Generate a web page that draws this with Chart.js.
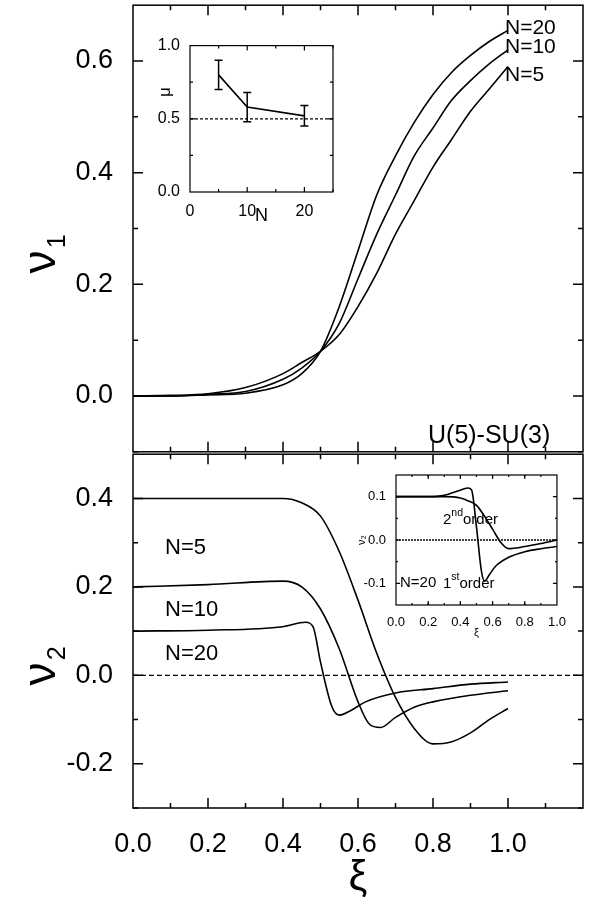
<!DOCTYPE html>
<html><head><meta charset="utf-8">
<script src="https://cdn.jsdelivr.net/npm/chart.js@4"></script>
<style>
body{margin:0;background:#fff;width:593px;height:904px;position:relative;overflow:hidden;font-family:"Liberation Sans",Arial,sans-serif}
canvas{position:absolute}
</style></head><body>
<canvas id="top" width="593" height="503" style="left:0;top:-23px"></canvas>
<canvas id="bot" width="593" height="478" style="left:0;top:426px"></canvas>
<canvas id="in1" width="190" height="193" style="left:150px;top:34px"></canvas>
<canvas id="in2" width="212" height="175" style="left:356px;top:465px"></canvas>
<script>
// top panel: nu1 vs xi
const xi1 = [0, 0.1, 0.2, 0.3, 0.4, 0.45, 0.5, 0.55, 0.6, 0.65, 0.7, 0.75, 0.8, 0.85, 0.9, 0.95, 1.0];
const nu1N20 = [0, 0, 0.002, 0.005, 0.02, 0.04, 0.08, 0.16, 0.26, 0.36, 0.43, 0.49, 0.54, 0.58, 0.61, 0.635, 0.655];
const nu1N10 = [0, 0, 0.003, 0.008, 0.03, 0.05, 0.08, 0.13, 0.21, 0.29, 0.36, 0.43, 0.48, 0.53, 0.565, 0.595, 0.62];
const nu1N5  = [0, 0.001, 0.004, 0.015, 0.04, 0.06, 0.08, 0.11, 0.16, 0.22, 0.29, 0.35, 0.41, 0.46, 0.51, 0.55, 0.59];

// bottom panel: nu2 vs xi
const xiN5 = [0, 0.2, 0.4, 0.45, 0.5, 0.55, 0.6, 0.65, 0.7, 0.75, 0.8, 0.85, 0.9, 0.95, 1.0];
const nu2N5 = [0.4, 0.4, 0.4, 0.39, 0.36, 0.28, 0.17, 0.05, -0.05, -0.12, -0.155, -0.15, -0.13, -0.10, -0.075];
const xiN10 = [0, 0.2, 0.4, 0.45, 0.5, 0.55, 0.6, 0.63, 0.66, 0.7, 0.75, 0.8, 0.9, 1.0];
const nu2N10 = [0.2, 0.205, 0.213, 0.20, 0.15, 0.06, -0.06, -0.11, -0.118, -0.095, -0.072, -0.06, -0.045, -0.035];
const xiN20 = [0, 0.2, 0.4, 0.46, 0.48, 0.5, 0.53, 0.55, 0.58, 0.62, 0.7, 0.8, 0.9, 1.0];
const nu2N20 = [0.1, 0.102, 0.11, 0.12, 0.11, 0.03, -0.07, -0.09, -0.08, -0.06, -0.04, -0.03, -0.02, -0.015];

// inset 1: mu vs N
const insN = [5, 10, 20];
const insMu = [0.8, 0.58, 0.52];
const insErr = [0.1, 0.1, 0.07];

// inset 2: 1st vs 2nd order, N=20
const xiIn = [0, 0.2, 0.3, 0.4, 0.45, 0.47, 0.5, 0.53, 0.55, 0.58, 0.62, 0.7, 0.8, 0.9, 1.0];
const first = [0.1, 0.1, 0.103, 0.115, 0.12, 0.115, 0.03, -0.07, -0.095, -0.08, -0.06, -0.04, -0.027, -0.02, -0.015];
const xiIn2 = [0, 0.2, 0.3, 0.4, 0.45, 0.5, 0.55, 0.6, 0.65, 0.7, 0.8, 0.9, 1.0];
const second = [0.1, 0.1, 0.1, 0.097, 0.09, 0.08, 0.055, 0.025, -0.005, -0.02, -0.015, -0.008, 0];

const FONT = '"Liberation Sans", Arial, sans-serif';
const pts = (xs, ys) => xs.map((x, i) => ({x, y: ys[i]}));
const line = (xs, ys, dash, straight) => ({data: pts(xs, ys), borderColor: '#000', borderWidth: dash ? 1.3 : 1.6,
  borderDash: dash || [], pointRadius: 0, fill: false, tension: 0,
  cubicInterpolationMode: straight ? 'default' : 'monotone'});

// draws frame, inward ticks, texts (page coords shifted by dy), white background
const frame = {
  id: 'frame',
  beforeDraw(c, a, o) {
    if (o.bg) { const ca = c.chartArea, g = c.ctx; g.fillStyle = '#fff'; g.fillRect(ca.left, ca.top, ca.right - ca.left, ca.bottom - ca.top); }
  },
  afterDraw(c, a, o) {
    const g = c.ctx, ca = c.chartArea, xs = c.scales.x, ys = c.scales.y, dy = o.dy || 0;
    g.save();
    g.strokeStyle = '#000'; g.lineWidth = o.lw || 1.5;
    g.strokeRect(ca.left, ca.top, ca.right - ca.left, ca.bottom - ca.top);
    const tk = (vals, len, sc, horiz) => vals.forEach(v => {
      const p = sc.getPixelForValue(v);
      g.beginPath();
      if (horiz) { g.moveTo(p, ca.bottom); g.lineTo(p, ca.bottom - len); g.moveTo(p, ca.top); g.lineTo(p, ca.top + len); }
      else { g.moveTo(ca.left, p); g.lineTo(ca.left + len, p); g.moveTo(ca.right, p); g.lineTo(ca.right - len, p); }
      g.stroke();
    });
    tk(o.xMajor, o.maj, xs, true); tk(o.xMinor, o.min, xs, true);
    tk(o.yMajor, o.maj, ys, false); tk(o.yMinor, o.min, ys, false);
    g.fillStyle = '#000'; g.textBaseline = 'middle';
    (o.texts || []).forEach(t => {
      const y = t.y + dy;
      g.font = t.size + 'px ' + FONT; g.textAlign = 'left';
      g.fillText(t.s, t.x, y);
      if (t.sup) { const w = g.measureText(t.s).width; g.font = (t.size * 0.7) + 'px ' + FONT; g.fillText(t.sup, t.x + w, y - t.size * 0.45);
        const w2 = g.measureText(t.sup).width; g.font = t.size + 'px ' + FONT; g.fillText(t.after, t.x + w + w2, y); }
    });
    if (o.ytitle) {
      const t = o.ytitle; g.translate(t.x, t.y + dy); g.rotate(-Math.PI / 2);
      g.font = t.size + 'px ' + FONT; g.textAlign = 'center'; g.fillText(t.s, 0, 0);
      if (t.sub) { g.font = (t.size * 0.55) + 'px ' + FONT; g.textAlign = 'left'; g.fillText(t.sub, t.size * 0.3, t.size * 0.35); }
    }
    g.restore();
  }
};
const range = (a, b, s) => { const r = []; for (let v = a; v <= b + 1e-9; v += s) r.push(+v.toFixed(4)); return r; };
const fixTicks = vals => sc => { sc.ticks = vals.map(v => ({value: v})); };

function axes(o) {
  return {
    x: {type: 'linear', min: o.xmin, max: o.xmax, afterBuildTicks: fixTicks(o.xLab),
      afterFit: s => { s.height = o.xh; }, grid: {display: false}, border: {display: false},
      ticks: {display: o.xShow, color: '#000', font: {family: FONT, size: o.fs}, padding: o.pad, maxRotation: 0,
        callback: v => v.toFixed(o.xdec)},
      title: {display: !!o.xTitle, text: o.xTitle, color: '#000', font: {family: FONT, size: o.tfs}, padding: 0}},
    y: {min: o.ymin, max: o.ymax, afterBuildTicks: fixTicks(o.yLab),
      afterFit: s => { s.width = o.yw; }, grid: {display: false}, border: {display: false},
      ticks: {color: '#000', font: {family: FONT, size: o.fs}, padding: o.pad, callback: v => v.toFixed(1)}}
  };
}
const base = {responsive: false, animation: false, devicePixelRatio: 1, plugins: {legend: {display: false}, tooltip: {enabled: false}}};

new Chart(document.getElementById('top'), {
  type: 'line', plugins: [frame],
  data: {datasets: [line(xi1, nu1N20), line(xi1, nu1N10), line(xi1, nu1N5)]},
  options: {...base, layout: {padding: {top: 5, right: 10}},
    scales: axes({xmin: 0, xmax: 1.2, xLab: range(0, 1.2, 0.2), xh: 8, xShow: false, xdec: 1,
      ymin: -0.1, ymax: 0.7, yLab: [0, 0.2, 0.4, 0.6], yw: 133, fs: 27, pad: 12}),
    plugins: {...base.plugins, frame: {dy: 23, lw: 1.5, maj: 10, min: 5, xMajor: range(0.2, 1.0, 0.2), xMinor: range(0.1, 1.1, 0.2),
      yMajor: [0, 0.2, 0.4, 0.6], yMinor: [-0.1, 0.1, 0.3, 0.5],
      ytitle: {s: 'ν', sub: '1', size: 46, x: 42, y: 262},
      texts: [{s: 'N=20', x: 505, y: 28, size: 21}, {s: 'N=10', x: 505, y: 47, size: 21}, {s: 'N=5', x: 505, y: 75, size: 21},
        {s: 'U(5)-SU(3)', x: 428, y: 436, size: 25}]}}}
});

new Chart(document.getElementById('bot'), {
  type: 'line', plugins: [frame],
  data: {datasets: [line(xiN5, nu2N5), line(xiN10, nu2N10), line(xiN20, nu2N20),
    line([0, 1.2], [0, 0], [5, 3])]},
  options: {...base, layout: {padding: {top: 0, right: 10}},
    scales: axes({xmin: 0, xmax: 1.2, xLab: range(0, 1.0, 0.2), xh: 96, xShow: true, xdec: 1, xTitle: 'ξ', tfs: 42,
      ymin: -0.3, ymax: 0.5, yLab: [-0.2, 0, 0.2, 0.4], yw: 133, fs: 27, pad: 12}),
    plugins: {...base.plugins, frame: {dy: -426, lw: 1.5, maj: 10, min: 5, xMajor: range(0.2, 1.0, 0.2), xMinor: range(0.1, 1.1, 0.2),
      yMajor: [-0.2, 0, 0.2, 0.4], yMinor: [-0.3, -0.1, 0.1, 0.3],
      ytitle: {s: 'ν', sub: '2', size: 46, x: 42, y: 674},
      texts: [{s: 'N=5', x: 165, y: 548, size: 22}, {s: 'N=10', x: 165, y: 610, size: 22}, {s: 'N=20', x: 165, y: 654, size: 22}]}}}
});

new Chart(document.getElementById('in1'), {
  type: 'line', plugins: [frame, {id: 'err', afterDatasetsDraw(c) {
    const g = c.ctx, xs = c.scales.x, ys = c.scales.y;
    g.save(); g.strokeStyle = '#000'; g.lineWidth = 1.5;
    insN.forEach((n, i) => {
      const x = xs.getPixelForValue(n), y1 = ys.getPixelForValue(insMu[i] - insErr[i]), y2 = ys.getPixelForValue(insMu[i] + insErr[i]);
      g.beginPath(); g.moveTo(x, y1); g.lineTo(x, y2); g.moveTo(x - 4, y1); g.lineTo(x + 4, y1); g.moveTo(x - 4, y2); g.lineTo(x + 4, y2); g.stroke();
    });
    g.restore();
  }}],
  data: {datasets: [line(insN, insMu, null, true), line([0, 25], [0.5, 0.5], [3, 2], true)]},
  options: {...base, layout: {padding: {top: 10, right: 7}},
    scales: axes({xmin: 0, xmax: 25, xLab: [0, 10, 20], xh: 35, xShow: true, xdec: 0, xTitle: 'N', tfs: 18,
      ymin: 0, ymax: 1, yLab: [0, 0.5, 1], yw: 40, fs: 16, pad: 2}),
    plugins: {...base.plugins, frame: {bg: true, lw: 1.2, maj: 5, min: 3, xMajor: [10, 20], xMinor: [5, 15, 25],
      yMajor: [0.5], yMinor: [0.25, 0.75], ytitle: {s: 'μ', size: 17, x: 15, y: 58}}}}
});

new Chart(document.getElementById('in2'), {
  type: 'line', plugins: [frame],
  data: {datasets: [line(xiIn, first), line(xiIn2, second), line([0, 1], [0, 0], [2, 1])]},
  options: {...base, layout: {padding: {top: 10, right: 7}},
    scales: axes({xmin: 0, xmax: 1, xLab: range(0, 1, 0.2), xh: 35, xShow: true, xdec: 1, xTitle: 'ξ', tfs: 11,
      ymin: -0.15, ymax: 0.15, yLab: [-0.1, 0, 0.1], yw: 40, fs: 13, pad: 2}),
    plugins: {...base.plugins, frame: {bg: true, lw: 1.2, maj: 4, min: 2, xMajor: range(0.2, 0.8, 0.2), xMinor: range(0.1, 0.9, 0.1),
      yMajor: [-0.1, 0, 0.1], yMinor: [-0.05, 0.05], ytitle: {s: 'ν₂', size: 11, x: 6, y: 75},
      texts: [{s: 'N=20', x: 44, y: 118, size: 15},
        {s: '2', sup: 'nd', after: 'order', x: 87, y: 55, size: 15},
        {s: '1', sup: 'st', after: 'order', x: 87, y: 119, size: 15}]}}}
});
</script>
</body></html>
